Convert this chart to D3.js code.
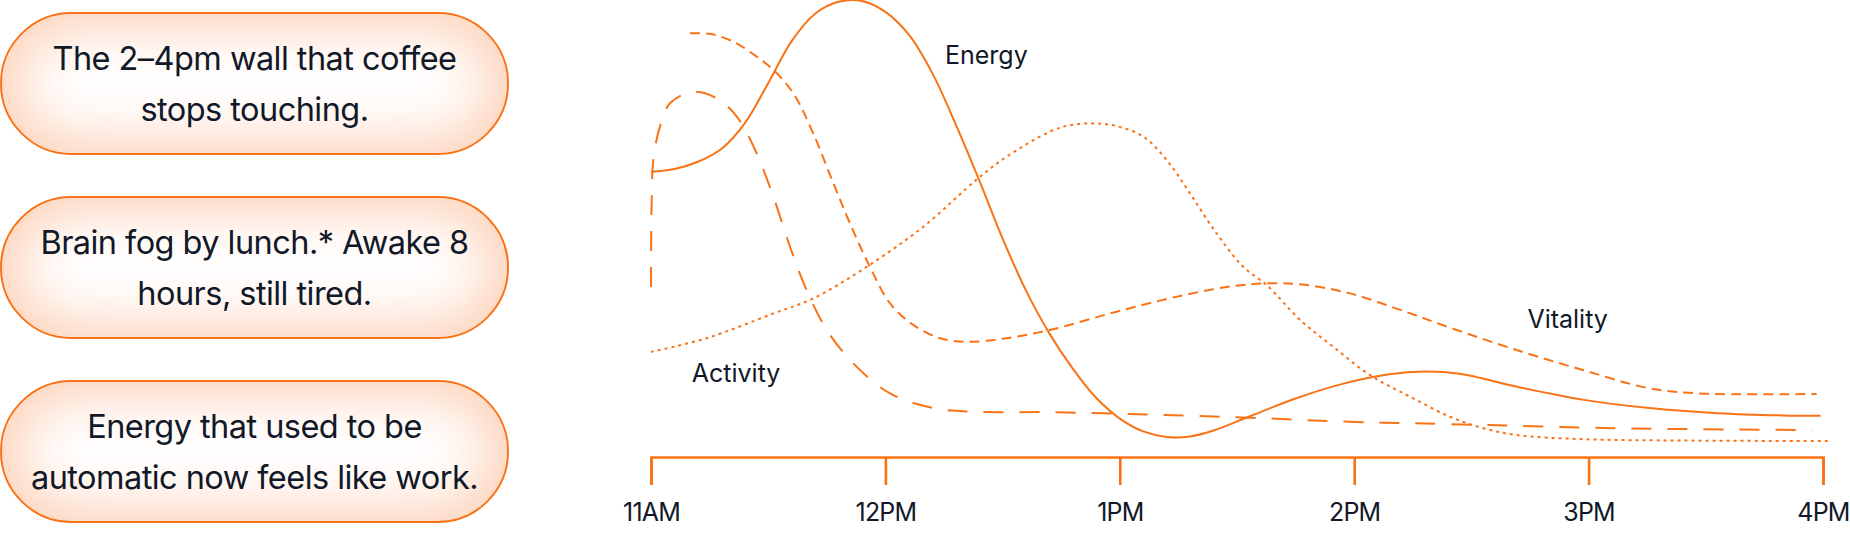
<!DOCTYPE html>
<html>
<head>
<meta charset="utf-8">
<script src="https://cdn.jsdelivr.net/npm/d3@7"></script>
<style>
  html, body { margin: 0; padding: 0; background: #ffffff; width: 1850px; height: 534px; overflow: hidden; }
  #root { position: relative; width: 1850px; height: 534px; }
  .pill {
    position: absolute; box-sizing: border-box;
    border: 2px solid #F97316; border-radius: 72px;
    background: #ffffff;
    box-shadow: inset 0 0 60px 10px rgba(250, 128, 58, 0.40);
    display: flex; align-items: center; justify-content: center;
    text-align: center; color: #111827;
    font-family: Inter, "Noto Sans", sans-serif; font-size: 32.5px; letter-spacing: -0.55px;
    line-height: 51px;
  }
  svg { position: absolute; left: 0; top: 0; }
  .axis text { font-family: Inter, "Noto Sans", sans-serif; font-size: 25px; fill: #111827; letter-spacing: -0.8px; }
  .series-label { font-family: Inter, "Noto Sans", sans-serif; font-size: 25px; fill: #111827; }
</style>
</head>
<body>
<div id="root"></div>
<script>
// ---- data ----
const pillLines = [
  ["The 2\u20134pm wall that coffee", "stops touching."],
  ["Brain fog by lunch.* Awake 8", "hours, still tired."],
  ["Energy that used to be", "automatic now feels like work."]
];
const hourTicks = [11, 12, 13, 14, 15, 16];
const tickLabels = ["11AM", "12PM", "1PM", "2PM", "3PM", "4PM"];

// [hour, level 0-100]
const energy = [
  [11.00, 62.4], [11.10, 63.0], [11.20, 64.6], [11.30, 67.4], [11.40, 73.0],
  [11.50, 81.8], [11.60, 91.0], [11.70, 97.0], [11.80, 99.6], [11.90, 99.8],
  [12.00, 97.4], [12.10, 92.4], [12.20, 84.0], [12.30, 72.8], [12.40, 60.6],
  [12.50, 47.8], [12.60, 36.4], [12.70, 27.0], [12.80, 19.3], [12.90, 12.9],
  [13.00, 8.4], [13.10, 5.6], [13.20, 4.4], [13.30, 4.5], [13.40, 5.8],
  [13.55, 8.8], [13.75, 12.8], [13.95, 16.0], [14.15, 18.1], [14.30, 18.7],
  [14.45, 18.2], [14.70, 15.3], [14.98, 12.5], [15.26, 10.7], [15.55, 9.6],
  [15.83, 9.1], [15.99, 9.0]
];
const activity = [
  [11.000, 37.2], [11.001, 49.0], [11.003, 56.2], [11.010, 65.0], [11.038, 72.3],
  [11.081, 77.4], [11.180, 79.9], [11.280, 78.5], [11.366, 74.5], [11.444, 67.2],
  [11.522, 57.0], [11.593, 46.0], [11.664, 36.5], [11.750, 27.8], [11.863, 20.5],
  [12.020, 13.9], [12.204, 10.7], [12.375, 9.9], [12.702, 9.8], [13.129, 9.3],
  [13.555, 8.6], [13.982, 7.7], [14.409, 7.2], [15.120, 6.3], [15.952, 5.9]
];
const vitality = [
  [11.166, 92.7], [11.250, 92.6], [11.351, 90.9], [11.451, 87.6], [11.522, 84.7],
  [11.607, 79.6], [11.692, 70.8], [11.778, 59.9], [11.849, 51.1], [11.934, 41.6],
  [12.020, 33.6], [12.119, 28.9], [12.233, 26.0], [12.347, 25.2], [12.517, 26.0],
  [12.702, 27.8], [12.987, 31.8], [13.271, 35.4], [13.484, 37.4], [13.627, 38.0],
  [13.769, 37.8], [13.982, 35.8], [14.196, 32.2], [14.409, 28.3], [14.693, 23.4],
  [14.978, 19.0], [15.262, 15.0], [15.475, 13.9], [15.973, 13.8]
];
const focus = [
  [11.000, 23.0], [11.238, 26.0], [11.522, 31.4], [11.692, 34.7], [11.920, 41.6],
  [12.162, 50.4], [12.396, 61.0], [12.517, 65.7], [12.702, 71.2], [12.788, 72.6],
  [12.887, 73.0], [12.987, 72.4], [13.100, 70.1], [13.200, 65.0], [13.299, 57.7],
  [13.413, 48.9], [13.527, 41.6], [13.627, 37.6], [13.769, 30.0], [13.911, 24.1],
  [14.068, 17.9], [14.238, 13.2], [14.409, 8.8], [14.551, 6.3], [14.693, 4.8],
  [14.978, 3.9], [15.405, 3.6], [16.038, 3.5]
];
const seriesNames = ["Energy", "Activity", "Vitality"];

// ---- layout ----
const W = 1850, H = 534;
const root = d3.select("#root");

const pillTop = 12, pillStep = 184, pillH = 143, pillW = 509;
root.selectAll("div.pill").data(pillLines).join("div")
  .attr("class", "pill")
  .style("left", "0px")
  .style("top", (d, i) => (pillTop + i * pillStep) + "px")
  .style("width", pillW + "px")
  .style("height", pillH + "px")
  .html(d => d.map(s => s.replace(/&/g, "&amp;")).join("<br>"));

const svg = root.append("svg").attr("width", W).attr("height", H);
const orange = "#F97316";

const x = d3.scaleLinear().domain([11, 16]).range([651, 1823]);
const y = d3.scaleLinear().domain([0, 100]).range([457, 0]);

const line = d3.line().x(d => x(d[0])).y(d => y(d[1])).curve(d3.curveCatmullRom.alpha(0.5));

const series = [
  { data: energy, dash: null },
  { data: activity, dash: "20,16" },
  { data: vitality, dash: "10,6" },
  { data: focus, dash: "3,4" }
];
svg.append("g").selectAll("path").data(series).join("path")
  .attr("d", d => line(d.data))
  .attr("fill", "none")
  .attr("stroke", orange)
  .attr("stroke-width", 2)
  .attr("stroke-dasharray", d => d.dash);

// axis
const axis = d3.axisBottom(x)
  .tickValues(hourTicks)
  .tickFormat((d, i) => tickLabels[i])
  .tickSizeInner(28).tickSizeOuter(28).tickPadding(18);
const gAxis = svg.append("g").attr("class", "axis").attr("transform", `translate(0,${y(0)})`).call(axis);
gAxis.select(".domain").attr("stroke", orange).attr("stroke-width", 2.6);
gAxis.selectAll(".tick line").attr("stroke", orange).attr("stroke-width", 2.6);

// series labels
const labelPos = [[12.254, 86.0], [11.174, 16.5], [14.739, 28.2]];
svg.append("g").selectAll("text").data(seriesNames).join("text")
  .attr("class", "series-label")
  .attr("x", (d, i) => x(labelPos[i][0]))
  .attr("y", (d, i) => y(labelPos[i][1]))
  .text(d => d);
</script>
</body>
</html>
